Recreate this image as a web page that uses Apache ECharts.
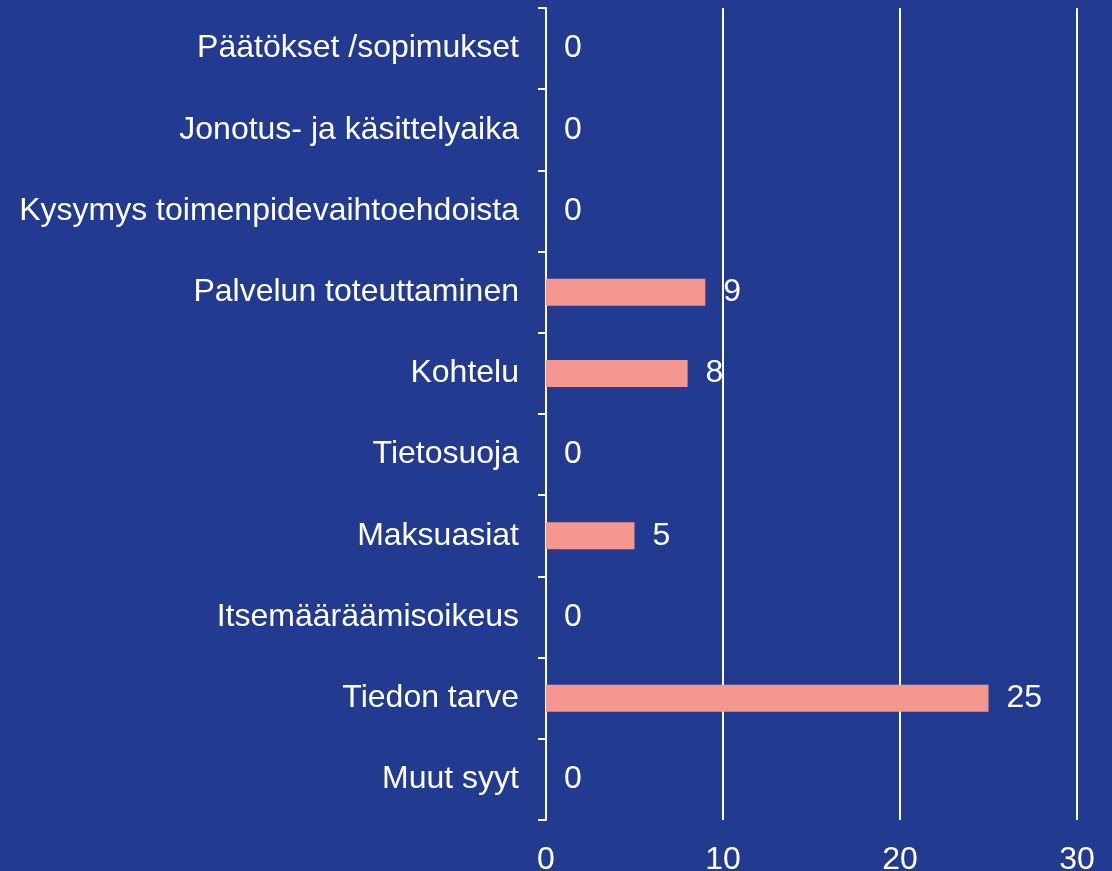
<!DOCTYPE html>
<html>
<head>
<meta charset="utf-8">
<script src="https://cdn.jsdelivr.net/npm/echarts@6/dist/echarts.min.js"></script>
<style>
  html, body { margin: 0; padding: 0; background: #223a8f; }
  #chart { width: 1112px; height: 871px; }
</style>
</head>
<body>
<div id="chart"></div>
<script>
// categories top to bottom
var categories = [
    'Päätökset /sopimukset',
    'Jonotus- ja käsittelyaika',
    'Kysymys toimenpidevaihtoehdoista',
    'Palvelun toteuttaminen',
    'Kohtelu',
    'Tietosuoja',
    'Maksuasiat',
    'Itsemääräämisoikeus',
    'Tiedon tarve',
    'Muut syyt'
];
var counts = [0, 0, 0, 9, 8, 0, 5, 0, 25, 0];

var myChart = echarts.init(document.getElementById('chart'), null, { renderer: 'canvas' });

myChart.setOption({
    backgroundColor: '#223a8f',
    animation: false,
    textStyle: { fontFamily: 'Liberation Sans, Arial, sans-serif' },
    grid: {
        left: 546,
        right: 35,
        top: 8,
        bottom: 51,
        containLabel: false,
        outerBoundsMode: 'none'
    },
    xAxis: {
        type: 'value',
        min: 0,
        max: 30,
        interval: 10,
        axisLine: { show: false },
        axisTick: { show: false },
        axisLabel: {
            color: '#ffffff',
            fontSize: 32,
            margin: 24
        },
        splitLine: {
            show: true,
            lineStyle: { color: '#ffffff', width: 2 }
        }
    },
    yAxis: {
        type: 'category',
        inverse: true,
        data: categories,
        axisLine: { show: true, lineStyle: { color: '#ffffff', width: 2 } },
        axisTick: { show: true, length: 8, lineStyle: { color: '#ffffff', width: 2 } },
        axisLabel: {
            color: '#ffffff',
            fontSize: 32,
            margin: 27,
            padding: [4, 0, 0, 0]
        },
        splitLine: { show: false }
    },
    series: [{
        type: 'bar',
        data: counts,
        barWidth: 27,
        itemStyle: { color: '#f4978e' },
        label: {
            show: true,
            position: 'right',
            distance: 18,
            color: '#ffffff',
            fontSize: 32,
            padding: [4, 0, 0, 0]
        }
    }]
});
</script>
</body>
</html>
